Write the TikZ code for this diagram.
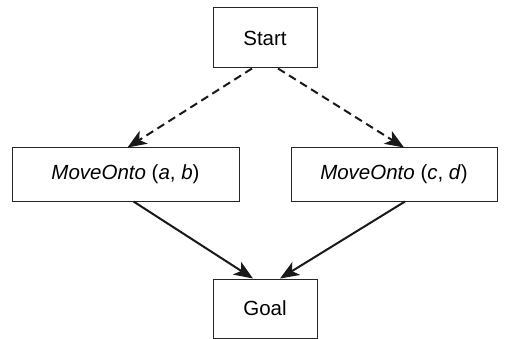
\documentclass[tikz,border=0pt]{standalone}
\usepackage{fontspec}
\setmainfont{Liberation Sans}
\usetikzlibrary{arrows.meta}
\begin{document}
\begin{tikzpicture}[x=1pt,y=-1pt,
  box/.style={draw=black!85,line width=1pt,inner sep=0pt,font=\fontsize{20.5}{24}\selectfont},
  conn/.style={line width=2pt,black!90,-{Stealth[length=19pt,width=15pt,inset=5pt]}},
  dconn/.style={conn,dash pattern=on 8pt off 5pt}]
\useasboundingbox (0,0) rectangle (508,339);
\node[box,minimum width=104pt,minimum height=60pt] (start) at (265,38) {Start};
\node[box,minimum width=227pt,minimum height=53pt] (a) at (125.5,174.5) {\textit{MoveOnto} (\textit{a}, \textit{b})};
\node[box,minimum width=206pt,minimum height=53pt] (b) at (394,174.5) {\textit{MoveOnto} (\textit{c}, \textit{d})};
\node[box,minimum width=104pt,minimum height=59pt] (goal) at (265,308.5) {Goal};
\draw[dconn] ([xshift=-13pt]start.south) -- ([xshift=2pt]a.north);
\draw[dconn] ([xshift=13pt]start.south) -- ([xshift=10pt]b.north);
\draw[conn] ([xshift=8pt]a.south) -- ([xshift=-12pt]goal.north);
\draw[conn] ([xshift=11pt]b.south) -- ([xshift=15pt]goal.north);
\end{tikzpicture}
\end{document}
